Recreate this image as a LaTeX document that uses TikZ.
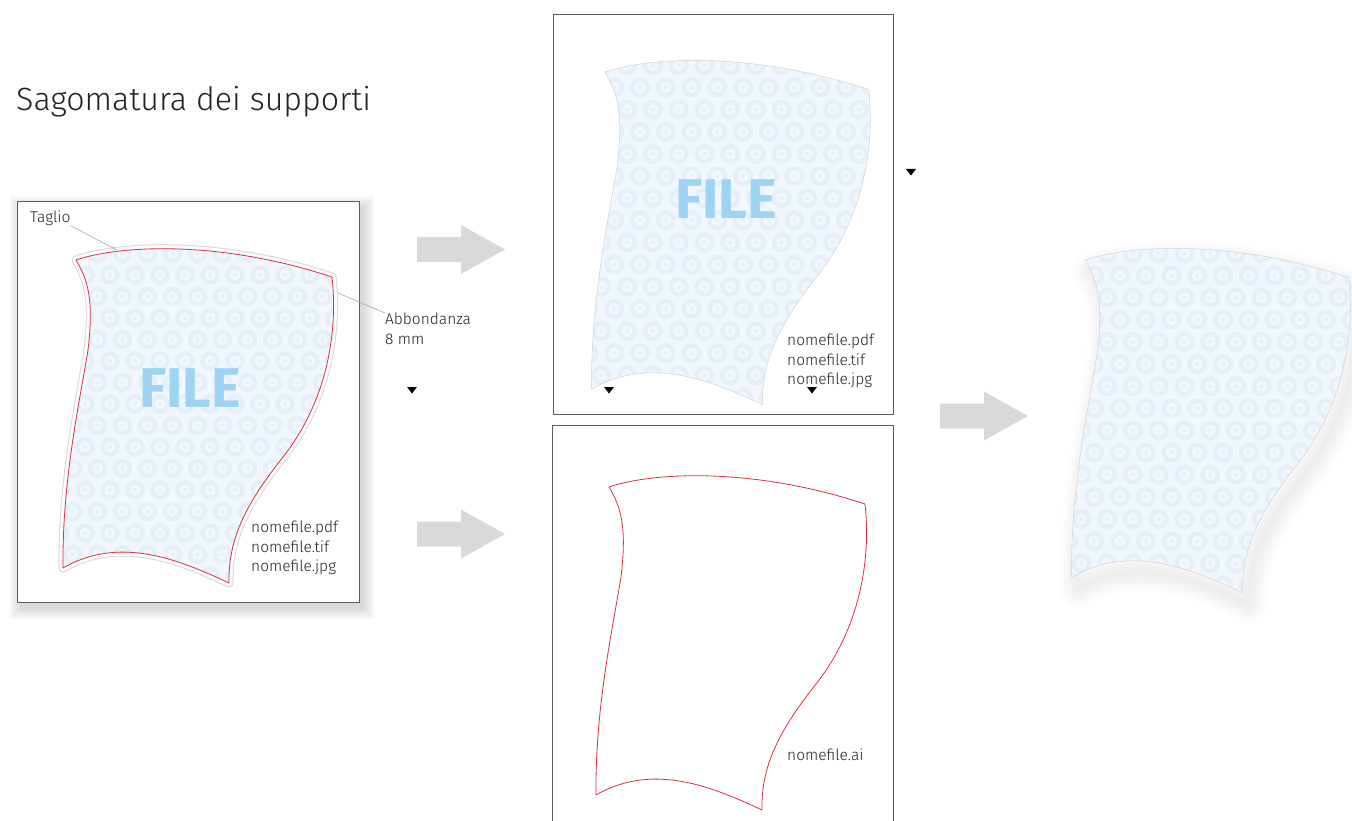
\documentclass[tikz,border=0pt]{standalone}
\usepackage{fontspec}
\setmainfont{Fira Sans}[UprightFont=* Light, BoldFont=* Bold]
\definecolor{fillblue}{HTML}{F1F7FC}
\definecolor{ringblue}{HTML}{E4EFF9}
\definecolor{fileblue}{HTML}{9DD3F3}
\definecolor{cutred}{HTML}{D8323E}
\definecolor{arrowgrey}{HTML}{D9D9D9}
\definecolor{boxline}{HTML}{5C5C5C}
\definecolor{txt}{HTML}{222222}
\tikzset{
  shp/.style={insert path={(76,260) .. controls (120,245) and (220,240) .. (332,277)
     .. controls (338,330) and (328,400) .. (283,457)
     .. controls (245,505) and (228,540) .. (229,583)
     .. controls (180,560) and (120,535) .. (63,568)
     .. controls (62,480) and (80,400) .. (88,350)
     .. controls (94,300) and (88,280) .. cycle}},
  lbl/.style={font=\fontsize{15.5}{19.5}\selectfont, text=txt, inner sep=0pt},
  filelbl/.style={font=\fontsize{56}{56}\selectfont\bfseries, text=fileblue, inner sep=0pt},
  leader/.style={draw=gray!70, line width=0.6},
  panel/.style={draw=boxline, line width=0.9, fill=white},
  tri/.style={fill=black},
}
\newcommand{\ringfill}{%
  \fill[fillblue] (0,200) rectangle (400,650);
  \foreach \j in {0,...,19}{\foreach \i in {0,...,14}{%
    \pgfmathsetmacro\xx{35+\i*25+mod(\j,2)*12.5}%
    \pgfmathsetmacro\yy{232+\j*21.5}%
    \draw[ringblue, line width=4.2] (\xx,\yy) circle (7.6);
    \fill[ringblue!70!fillblue] (\xx,\yy) circle (2);
  }}}
\newcommand{\greyarrow}[3]{%
  \fill[arrowgrey] (#1,#2-12.5) -- (#1+44,#2-12.5) -- (#1+44,#2-24.5) -- (#1+88,#2)
     -- (#1+44,#2+24.5) -- (#1+44,#2+12.5) -- (#1,#2+12.5) -- cycle;
  \coordinate (#3) at (#1+44,#2);}
\newcommand{\smalltri}[2]{\fill[tri] (#1-5,#2-3) -- (#1+5,#2-3) -- (#1,#2+3.5) -- cycle;}
\begin{document}
\begin{tikzpicture}[x=1pt,y=-1pt]
\useasboundingbox (0,0) rectangle (1352,821);
\clip (0,0) rectangle (1352,821);
\fill[white] (0,0) rectangle (1352,821);

% title
\node[anchor=west, inner sep=0pt, text=txt, font=\fontsize{32.2}{37}\selectfont] (title) at (16,102) {Sagomatura dei supporti};

% ---------- left panel ----------
\foreach \d in {1,...,12}{\fill[black, opacity=0.011] (21-\d,207-\d) rectangle (363+\d,608+\d);}
\node[panel, anchor=north west, minimum width=342, minimum height=401, inner sep=0pt] (p1) at (17,201) {};
\draw[gray!30, line width=9, line join=round, shp];
\draw[white!55!fillblue, line width=7, line join=round, shp];
\begin{scope}
  \clip[shp];
  \ringfill
\end{scope}
\draw[cutred, line width=0.8, line join=round, shp];
\node[filelbl] (file1) at (190,388) {FILE};
\node[lbl, anchor=north west, align=left] (names1) at (251,521) {nomefile.pdf\\nomefile.tif\\nomefile.jpg};
\node[lbl, anchor=west] (taglio) at (30,218) {Taglio};
\coordinate (tagp) at (117,250);
\draw[leader] (taglio.south east) -- (tagp);
\node[lbl, anchor=north west, align=left] (abb) at (385,313) {Abbondanza\\8 mm};
\coordinate (abbp) at (338,293);
\draw[leader] (abb.north west) -- (abbp);
\smalltri{412}{390}

% ---------- arrows ----------
\greyarrow{417}{249.5}{ar1}
\greyarrow{417}{534}{ar2}
\greyarrow{940}{416}{ar3}

% ---------- top middle panel ----------
\node[panel, anchor=north west, minimum width=340, minimum height=400, inner sep=0pt] (p2) at (553,14) {};
\begin{scope}[shift={(526.7,-195.8)}, scale=1.03]
  \begin{scope}
    \clip[shp];
    \ringfill
  \end{scope}
  \draw[gray!35, line width=0.5, shp];
\end{scope}
\node[filelbl] (file2) at (726,199) {FILE};
\node[lbl, anchor=north west, align=left] (names2) at (787,334) {nomefile.pdf\\nomefile.tif\\nomefile.jpg};
\smalltri{609}{390}
\smalltri{812}{390}
\smalltri{911}{172}

% ---------- bottom middle panel ----------
\node[panel, anchor=north west, minimum width=341, minimum height=420, inner sep=0pt] (p3) at (552,425) {};
\begin{scope}[shift={(533,227)}]
  \draw[cutred, line width=0.8, line join=round, shp];
\end{scope}
\node[lbl, anchor=west] (names3) at (787,755) {nomefile.ai};

% ---------- right result ----------
\begin{scope}[shift={(1006.7,-7.8)}, scale=1.03]
  \begin{scope}[shift={(6,11)}]
    \foreach \w in {4,8,...,36}{\draw[black, opacity=0.006, line width=\w, line join=round, shp];}
  \end{scope}
  \fill[white, shp];
  \begin{scope}
    \clip[shp];
    \ringfill
  \end{scope}
  \draw[gray!35, line width=0.5, shp];
\end{scope}
\end{tikzpicture}
\end{document}
